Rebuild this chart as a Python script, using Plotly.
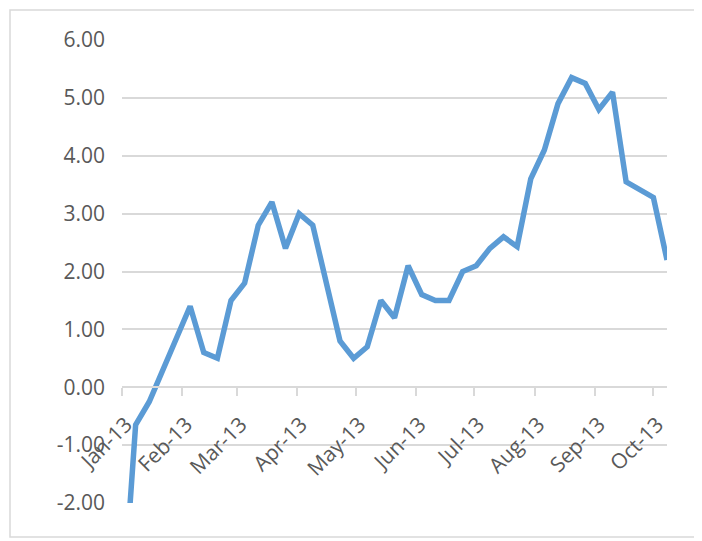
import plotly.graph_objects as go
import pandas as pd

# weekly dates starting 2013-01-01
start_date = "2013-01-01"
n_points = 41
dates = pd.date_range(start_date, periods=n_points, freq="7D")

values = [-4.0, -0.65, -0.25, 0.30, 0.85, 1.40, 0.60, 0.50, 1.50, 1.80,
          2.80, 3.20, 2.40, 3.00, 2.80, 1.80, 0.80, 0.50, 0.70, 1.50,
          1.20, 2.10, 1.60, 1.50, 1.50, 2.00, 2.10, 2.40, 2.60, 2.43,
          3.60, 4.10, 4.90, 5.35, 5.25, 4.80, 5.10, 3.55, 3.42, 3.28,
          2.20]

tick_dates = ["2013-01-01", "2013-02-01", "2013-03-01", "2013-04-01", "2013-05-01",
              "2013-06-01", "2013-07-01", "2013-08-01", "2013-09-01", "2013-10-01"]
tick_labels = ["Jan-13", "Feb-13", "Mar-13", "Apr-13", "May-13",
               "Jun-13", "Jul-13", "Aug-13", "Sep-13", "Oct-13"]

y_ticks = [-2, -1, 0, 1, 2, 3, 4, 5, 6]
y_labels = [f"{v:.2f}" for v in y_ticks]

y_min, y_max = -2, 6

fig = go.Figure()
fig.add_trace(go.Scatter(
    x=dates, y=values, mode="lines",
    line=dict(color="#5B9BD5", width=5.5),
    cliponaxis=True, showlegend=False,
))

# page body has an 8px margin, so figure coords = screen coords - 8
W, H = 694, 533
L, R, T, B = 114, 35, 32, 38
pw, ph = W - L - R, H - T - B

fig.update_layout(
    width=W, height=H,
    margin=dict(l=L, r=R, t=T, b=B, autoexpand=False),
    paper_bgcolor="white", plot_bgcolor="white",
    font=dict(family="Open Sans, DejaVu Sans, sans-serif", size=21, color="#595959"),
    xaxis=dict(
        type="date",
        range=[dates[0], dates[-1]],
        tickvals=tick_dates, ticktext=tick_labels,
        tickangle=-45,
        showgrid=False,
        showline=True, linecolor="#D9D9D9", linewidth=1.5,
        ticks="outside", ticklen=8, tickcolor="#D9D9D9", tickwidth=1.5,
        anchor="free", position=(0 - y_min) / (y_max - y_min),
        tickfont=dict(size=21, color="#595959"),
        ticklabelstandoff=8, ticklabelshift=4,
        zeroline=False, automargin=False,
    ),
    yaxis=dict(
        range=[y_min, y_max],
        tickvals=y_ticks, ticktext=y_labels,
        showgrid=True, gridcolor="#D9D9D9", gridwidth=1.5,
        showline=False, zeroline=False, ticks="",
        ticklabelstandoff=16, automargin=False,
        tickfont=dict(size=21, color="#595959"),
    ),
)

# chart outer border (like Excel chart area)
fig.add_shape(type="rect", xref="paper", yref="paper",
              x0=(2 - L) / pw, x1=(689 - L) / pw,
              y0=-(529 - T - ph) / ph, y1=1 + (T - 2) / ph,
              line=dict(color="#D9D9D9", width=1.5), fillcolor="rgba(0,0,0,0)",
              layer="below")

fig.write_html("out.html")
